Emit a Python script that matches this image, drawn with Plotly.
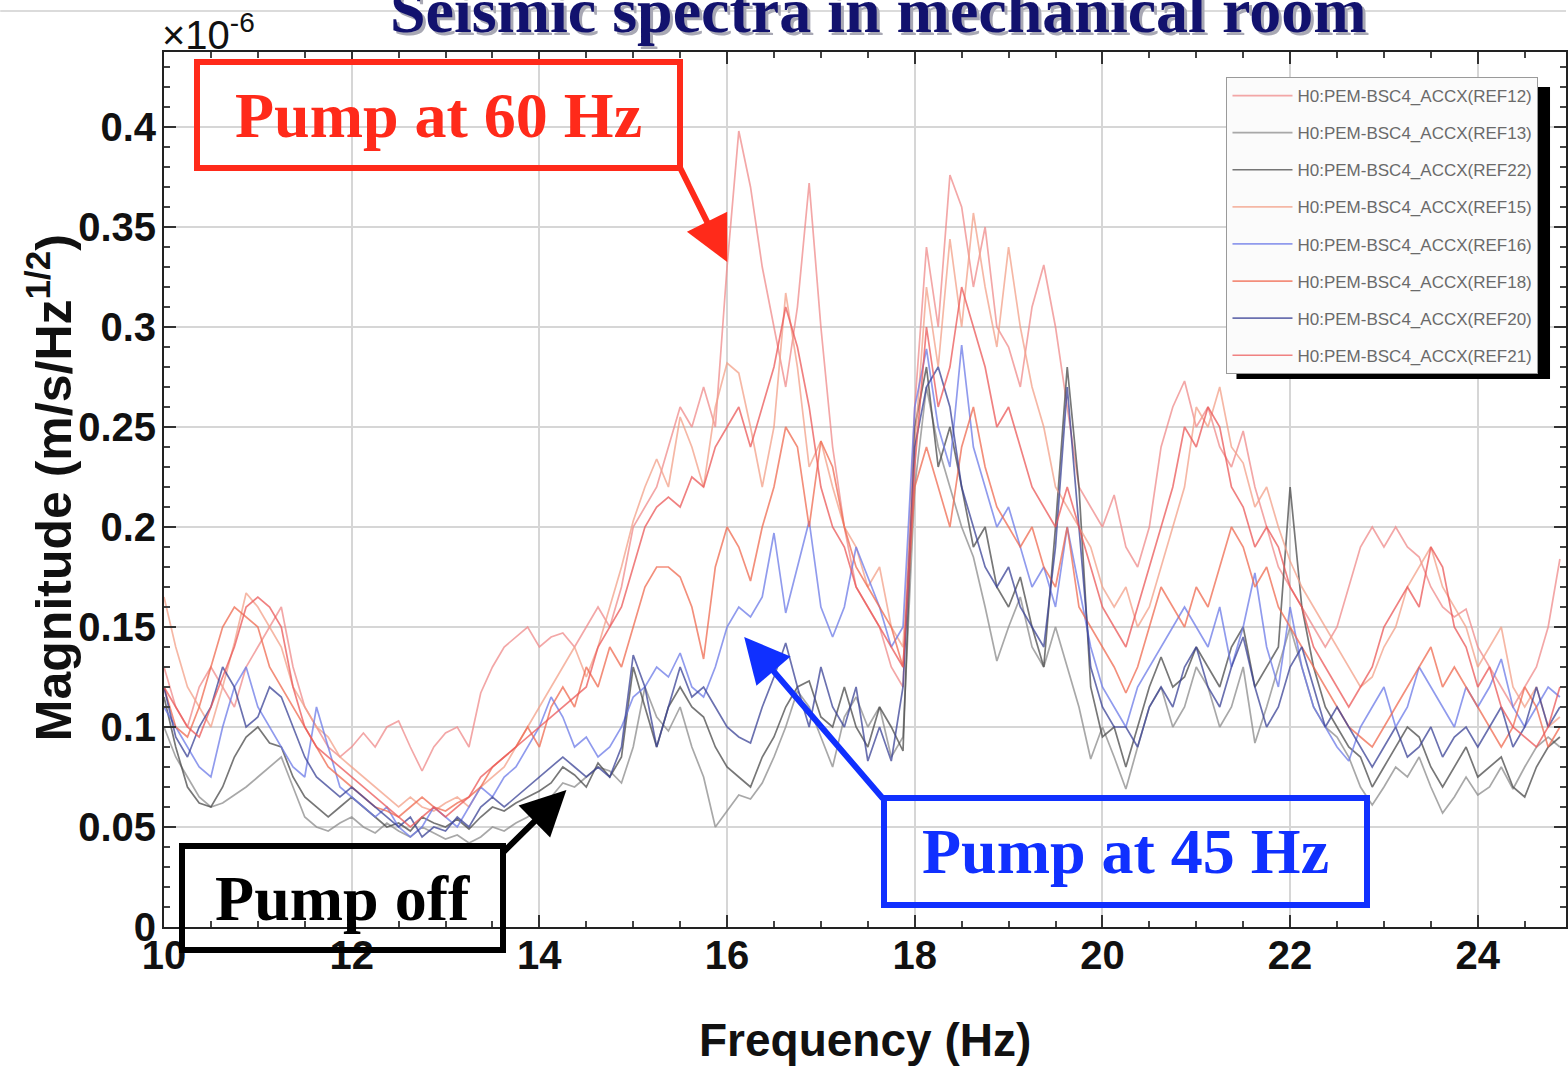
import plotly.graph_objects as go

# Frequency grid (Hz), 0.125 Hz resolution
freq = [round(10 + 0.125 * i, 3) for i in range(120)]

# Acceleration spectra, magnitude in units of 1e-6 m/s/Hz^1/2 (one row per Hz)
ref12 = [0.13, 0.11, 0.10, 0.12, 0.13, 0.12, 0.11, 0.13,
         0.14, 0.15, 0.16, 0.13, 0.11, 0.10, 0.09, 0.085,
         0.09, 0.097, 0.09, 0.10, 0.103, 0.09, 0.078, 0.09,
         0.097, 0.10, 0.09, 0.117, 0.13, 0.14, 0.145, 0.15,
         0.14, 0.145, 0.147, 0.14, 0.15, 0.16, 0.15, 0.17,
         0.20, 0.21, 0.22, 0.24, 0.26, 0.25, 0.27, 0.25,
         0.33, 0.398, 0.37, 0.33, 0.30, 0.27, 0.31, 0.372,
         0.30, 0.24, 0.20, 0.17, 0.16, 0.15, 0.13, 0.12,
         0.26, 0.34, 0.30, 0.376, 0.36, 0.32, 0.35, 0.30,
         0.29, 0.27, 0.31, 0.331, 0.30, 0.26, 0.22, 0.21,
         0.20, 0.216, 0.19, 0.18, 0.20, 0.24, 0.26, 0.273,
         0.25, 0.26, 0.24, 0.23, 0.248, 0.22, 0.20, 0.18,
         0.17, 0.16, 0.15, 0.14, 0.15, 0.17, 0.19, 0.20,
         0.19, 0.20, 0.19, 0.185, 0.17, 0.16, 0.155, 0.159,
         0.14, 0.13, 0.12, 0.11, 0.12, 0.13, 0.15, 0.184]

ref13 = [0.10, 0.085, 0.075, 0.065, 0.06, 0.062, 0.066, 0.07,
         0.075, 0.08, 0.085, 0.07, 0.055, 0.05, 0.048, 0.052,
         0.055, 0.05, 0.047, 0.052, 0.048, 0.045, 0.05, 0.047,
         0.044, 0.046, 0.042, 0.045, 0.05, 0.048, 0.052, 0.055,
         0.06, 0.065, 0.072, 0.07, 0.075, 0.08, 0.078, 0.072,
         0.09, 0.12, 0.105, 0.098, 0.11, 0.09, 0.075, 0.05,
         0.058, 0.066, 0.064, 0.072, 0.085, 0.10, 0.118, 0.11,
         0.095, 0.08, 0.105, 0.115, 0.10, 0.11, 0.085, 0.095,
         0.22, 0.27, 0.24, 0.22, 0.20, 0.185, 0.16, 0.133,
         0.15, 0.165, 0.14, 0.13, 0.15, 0.13, 0.11, 0.084,
         0.10, 0.085, 0.069, 0.09, 0.11, 0.12, 0.10, 0.11,
         0.13, 0.12, 0.10, 0.11, 0.13, 0.092, 0.11, 0.13,
         0.15, 0.13, 0.11, 0.10, 0.095, 0.085, 0.07, 0.061,
         0.07, 0.08, 0.075, 0.085, 0.07, 0.057, 0.065, 0.075,
         0.066, 0.07, 0.08, 0.069, 0.08, 0.09, 0.095, 0.09]

ref22 = [0.115, 0.09, 0.07, 0.062, 0.06, 0.07, 0.085, 0.095,
         0.10, 0.092, 0.09, 0.075, 0.065, 0.06, 0.055, 0.06,
         0.065, 0.06, 0.055, 0.05, 0.052, 0.048, 0.055, 0.052,
         0.05, 0.054, 0.049, 0.055, 0.06, 0.058, 0.062, 0.065,
         0.068, 0.072, 0.08, 0.076, 0.07, 0.082, 0.075, 0.085,
         0.13, 0.11, 0.09, 0.11, 0.12, 0.11, 0.105, 0.09,
         0.08, 0.075, 0.07, 0.085, 0.095, 0.11, 0.12, 0.123,
         0.105, 0.10, 0.12, 0.10, 0.09, 0.11, 0.10, 0.088,
         0.25, 0.28, 0.23, 0.25, 0.22, 0.19, 0.20, 0.17,
         0.16, 0.175, 0.15, 0.13, 0.20, 0.28, 0.22, 0.12,
         0.095, 0.10, 0.08, 0.10, 0.12, 0.135, 0.12, 0.125,
         0.14, 0.13, 0.12, 0.14, 0.15, 0.12, 0.13, 0.14,
         0.22, 0.16, 0.13, 0.11, 0.10, 0.09, 0.085, 0.07,
         0.08, 0.09, 0.10, 0.095, 0.08, 0.07, 0.08, 0.09,
         0.075, 0.08, 0.085, 0.07, 0.065, 0.08, 0.09, 0.095]

ref15 = [0.165, 0.14, 0.12, 0.11, 0.10, 0.12, 0.142, 0.167,
         0.16, 0.15, 0.14, 0.12, 0.11, 0.10, 0.095, 0.085,
         0.08, 0.075, 0.07, 0.065, 0.06, 0.065, 0.06, 0.058,
         0.062, 0.065, 0.06, 0.07, 0.075, 0.08, 0.09, 0.10,
         0.11, 0.12, 0.13, 0.14, 0.125, 0.14, 0.16, 0.18,
         0.203, 0.22, 0.234, 0.22, 0.255, 0.24, 0.22, 0.26,
         0.282, 0.277, 0.25, 0.22, 0.25, 0.317, 0.28, 0.23,
         0.243, 0.22, 0.20, 0.19, 0.17, 0.18, 0.15, 0.14,
         0.24, 0.32, 0.28, 0.344, 0.30, 0.357, 0.32, 0.29,
         0.34, 0.30, 0.27, 0.25, 0.22, 0.21, 0.20, 0.19,
         0.17, 0.16, 0.17, 0.15, 0.16, 0.18, 0.20, 0.22,
         0.26, 0.25, 0.27, 0.24, 0.232, 0.21, 0.22, 0.20,
         0.183, 0.17, 0.16, 0.15, 0.14, 0.13, 0.12, 0.125,
         0.14, 0.15, 0.17, 0.18, 0.19, 0.17, 0.16, 0.15,
         0.13, 0.14, 0.15, 0.12, 0.11, 0.12, 0.10, 0.105]

ref16 = [0.11, 0.10, 0.09, 0.08, 0.075, 0.10, 0.12, 0.13,
         0.11, 0.10, 0.09, 0.08, 0.075, 0.11, 0.09, 0.07,
         0.065, 0.06, 0.055, 0.06, 0.05, 0.045, 0.05, 0.06,
         0.055, 0.05, 0.06, 0.07, 0.065, 0.075, 0.08, 0.09,
         0.10, 0.115, 0.105, 0.09, 0.095, 0.085, 0.09, 0.10,
         0.115, 0.12, 0.13, 0.125, 0.137, 0.12, 0.115, 0.13,
         0.15, 0.16, 0.155, 0.165, 0.197, 0.157, 0.18, 0.203,
         0.16, 0.145, 0.16, 0.19, 0.175, 0.16, 0.14, 0.15,
         0.26, 0.289, 0.25, 0.23, 0.291, 0.24, 0.22, 0.20,
         0.21, 0.19, 0.17, 0.18, 0.16, 0.20, 0.17, 0.14,
         0.12, 0.11, 0.10, 0.12, 0.13, 0.14, 0.15, 0.16,
         0.15, 0.14, 0.16, 0.13, 0.15, 0.177, 0.14, 0.12,
         0.16, 0.13, 0.11, 0.10, 0.09, 0.083, 0.10, 0.11,
         0.12, 0.10, 0.11, 0.13, 0.12, 0.11, 0.10, 0.12,
         0.11, 0.12, 0.134, 0.11, 0.10, 0.11, 0.12, 0.115]

ref18 = [0.12, 0.10, 0.095, 0.11, 0.13, 0.15, 0.16, 0.155,
         0.15, 0.13, 0.12, 0.11, 0.10, 0.09, 0.08, 0.075,
         0.07, 0.065, 0.06, 0.058, 0.055, 0.06, 0.065, 0.06,
         0.058, 0.062, 0.065, 0.07, 0.08, 0.085, 0.09, 0.10,
         0.09, 0.11, 0.12, 0.11, 0.13, 0.12, 0.14, 0.13,
         0.15, 0.17, 0.18, 0.18, 0.175, 0.16, 0.134, 0.18,
         0.20, 0.19, 0.173, 0.20, 0.22, 0.25, 0.24, 0.20,
         0.243, 0.23, 0.20, 0.18, 0.17, 0.16, 0.15, 0.13,
         0.22, 0.24, 0.22, 0.20, 0.24, 0.26, 0.23, 0.21,
         0.20, 0.19, 0.20, 0.18, 0.17, 0.20, 0.16, 0.15,
         0.14, 0.13, 0.117, 0.13, 0.15, 0.17, 0.16, 0.15,
         0.17, 0.16, 0.18, 0.20, 0.19, 0.17, 0.18, 0.16,
         0.15, 0.14, 0.13, 0.12, 0.11, 0.10, 0.095, 0.09,
         0.10, 0.11, 0.12, 0.13, 0.14, 0.12, 0.13, 0.12,
         0.11, 0.10, 0.09, 0.10, 0.12, 0.11, 0.09, 0.10]

ref20 = [0.12, 0.095, 0.085, 0.10, 0.11, 0.13, 0.12, 0.10,
         0.105, 0.12, 0.115, 0.10, 0.085, 0.075, 0.07, 0.065,
         0.07, 0.065, 0.06, 0.055, 0.05, 0.055, 0.045, 0.05,
         0.048, 0.055, 0.05, 0.06, 0.065, 0.06, 0.065, 0.07,
         0.075, 0.08, 0.085, 0.08, 0.075, 0.08, 0.075, 0.09,
         0.136, 0.12, 0.09, 0.11, 0.13, 0.115, 0.12, 0.11,
         0.10, 0.095, 0.092, 0.11, 0.125, 0.142, 0.12, 0.10,
         0.13, 0.11, 0.10, 0.12, 0.083, 0.10, 0.083, 0.12,
         0.24, 0.27, 0.28, 0.26, 0.22, 0.20, 0.18, 0.17,
         0.18, 0.16, 0.15, 0.14, 0.19, 0.27, 0.20, 0.13,
         0.11, 0.10, 0.10, 0.09, 0.11, 0.12, 0.11, 0.13,
         0.14, 0.12, 0.11, 0.13, 0.145, 0.12, 0.10, 0.11,
         0.13, 0.14, 0.12, 0.10, 0.11, 0.10, 0.09, 0.08,
         0.09, 0.10, 0.085, 0.09, 0.10, 0.085, 0.095, 0.10,
         0.09, 0.10, 0.11, 0.09, 0.10, 0.12, 0.10, 0.11]

ref21 = [0.12, 0.11, 0.10, 0.095, 0.11, 0.125, 0.14, 0.16,
         0.165, 0.16, 0.15, 0.12, 0.10, 0.09, 0.085, 0.08,
         0.075, 0.07, 0.065, 0.06, 0.055, 0.05, 0.055, 0.06,
         0.055, 0.06, 0.065, 0.075, 0.08, 0.085, 0.09, 0.095,
         0.10, 0.105, 0.11, 0.115, 0.12, 0.14, 0.15, 0.16,
         0.18, 0.20, 0.21, 0.215, 0.21, 0.225, 0.22, 0.24,
         0.25, 0.26, 0.24, 0.26, 0.28, 0.31, 0.29, 0.26,
         0.22, 0.20, 0.19, 0.17, 0.16, 0.15, 0.14, 0.13,
         0.23, 0.30, 0.26, 0.28, 0.32, 0.30, 0.28, 0.25,
         0.26, 0.24, 0.22, 0.21, 0.20, 0.22, 0.20, 0.18,
         0.16, 0.15, 0.14, 0.16, 0.18, 0.20, 0.22, 0.25,
         0.24, 0.26, 0.25, 0.22, 0.21, 0.19, 0.20, 0.19,
         0.17, 0.16, 0.14, 0.13, 0.12, 0.11, 0.12, 0.13,
         0.15, 0.16, 0.17, 0.16, 0.19, 0.18, 0.15, 0.14,
         0.12, 0.13, 0.11, 0.10, 0.095, 0.09, 0.10, 0.12]

channel_names = ["H0:PEM-BSC4_ACCX(REF12)", "H0:PEM-BSC4_ACCX(REF13)",
                 "H0:PEM-BSC4_ACCX(REF22)", "H0:PEM-BSC4_ACCX(REF15)",
                 "H0:PEM-BSC4_ACCX(REF16)", "H0:PEM-BSC4_ACCX(REF18)",
                 "H0:PEM-BSC4_ACCX(REF20)", "H0:PEM-BSC4_ACCX(REF21)"]
channel_values = [ref12, ref13, ref22, ref15, ref16, ref18, ref20, ref21]
channel_colors = ["#f08a8a", "#8c8c8c", "#4a4a4a", "#f3a088",
                  "#6c7ae8", "#f06a50", "#3a4296", "#ec5858"]

x_range = [10, 24.94]
y_range = [0, 0.4375]

# figure geometry (pixels)
W, H = 1568, 1068
ML, MR, MT, MB = 164, 0, 52, 141
PW, PH = W - ML - MR, H - MT - MB


def px(xp):
    return (xp - ML) / PW


def py(yp):
    return (H - MB - yp) / PH


SANS = "Liberation Sans, Arial, sans-serif"
SERIF = "Liberation Serif, Times New Roman, serif"

fig = go.Figure()
for name, vals, col in zip(channel_names, channel_values, channel_colors):
    fig.add_trace(go.Scatter(
        x=freq, y=vals, mode="lines", name=name, legendgroup=name,
        line=dict(color=col, width=1.7), opacity=0.75,
    ))

axis_common = dict(
    showline=True, linecolor="#222", linewidth=2, mirror="ticks",
    ticks="inside", tickcolor="#333", tickwidth=1.5, ticklen=12,
    showgrid=True, gridcolor="#d6d6d6", gridwidth=1.5, zeroline=False,
    tickfont=dict(family=SANS, size=40, color="#111", weight="bold"),
)
fig.update_xaxes(range=x_range, dtick=2, tick0=10,
                 minor=dict(dtick=0.5, ticks="inside", ticklen=6,
                            tickcolor="#444", showgrid=False),
                 ticklabelstandoff=-8, **axis_common)
fig.update_yaxes(range=y_range,
                 tickvals=[0, 0.05, 0.1, 0.15, 0.2, 0.25, 0.3, 0.35, 0.4],
                 ticktext=["0", "0.05", "0.1", "0.15", "0.2", "0.25", "0.3", "0.35", "0.4"],
                 minor=dict(dtick=0.01, ticks="inside", ticklen=6,
                            tickcolor="#444", showgrid=False),
                 ticklabelstandoff=-2, **axis_common)

annotations = [
    # slide title (shadow + text)
    dict(x=px(879 + 3), y=py(-27 + 3), text="<b>Seismic spectra in mechanical room</b>",
         font=dict(family=SERIF, size=64, color="#a8a8b4")),
    dict(x=px(879), y=py(-27), text="<b>Seismic spectra in mechanical room</b>",
         font=dict(family=SERIF, size=64, color="#12126e")),
    # axis titles and exponent
    dict(x=px(866), y=py(1040), text="<b>Frequency (Hz)</b>", yanchor="middle",
         font=dict(family=SANS, size=46, color="#111")),
    dict(x=px(50), y=py(488), text="<b>Magnitude (m/s/Hz<sup>1/2</sup>)</b>", textangle=-90,
         xanchor="center", yanchor="middle",
         font=dict(family=SANS, size=50, color="#111")),
    dict(x=px(160), y=py(32), text="×10<sup>-6</sup>", xanchor="left", yanchor="middle",
         font=dict(family=SANS, size=40, color="#111")),
    # callout boxes
    dict(x=px(438.5), y=py(115), text="<b>Pump at 60 Hz</b>", yanchor="middle",
         width=477, height=100, borderpad=0, borderwidth=6, bordercolor="#ff2a1a",
         font=dict(family=SERIF, size=64, color="#ff2a1a")),
    dict(x=px(1126.5), y=py(851.5), text="<b>Pump at 45 Hz</b>", yanchor="middle",
         width=477, height=101, borderpad=0, borderwidth=6, bordercolor="#1030ff",
         font=dict(family=SERIF, size=64, color="#1030ff")),
    dict(x=px(342.5), y=py(898), text="<b>Pump off</b>", yanchor="middle",
         width=315, height=98, borderpad=0, borderwidth=6, bordercolor="#000000",
         font=dict(family=SERIF, size=64, color="#000000")),
]
for a in annotations:
    a.setdefault("xref", "paper")
    a.setdefault("yref", "paper")
    a.setdefault("showarrow", False)
    a.setdefault("yanchor", "top")
    a.setdefault("xanchor", "center")

# callout arrows: (head x, head y, tail x, tail y, colour)
arrows = [(728, 262, 680, 166, "#ff2a1a"),
          (745, 637, 885, 800, "#1030ff"),
          (567, 790, 503, 853, "#000000")]
for hx, hy, tx, ty, col in arrows:
    annotations.append(dict(
        xref="paper", yref="paper", x=px(hx), y=py(hy), text="",
        showarrow=True, axref="pixel", ayref="pixel", ax=tx - hx, ay=ty - hy,
        arrowhead=2, arrowsize=1.5, arrowwidth=6, arrowcolor=col,
    ))

shapes = [
    # thin rule across the top of the slide
    dict(type="line", xref="paper", yref="paper", x0=px(0), x1=px(W),
         y0=py(11), y1=py(11), line=dict(color="#cfcfcf", width=1.5)),
    # drop shadow behind the legend box
    dict(type="rect", xref="paper", yref="paper", x0=px(1238), x1=px(1552),
         y0=py(379), y1=py(87), fillcolor="#000000", line=dict(width=0),
         layer="above"),
]

fig.update_layout(
    width=W, height=H,
    margin=dict(l=ML, r=MR, t=MT, b=MB, pad=0),
    paper_bgcolor="white", plot_bgcolor="white",
    annotations=annotations, shapes=shapes,
    showlegend=True,
    legend=dict(x=px(1228), y=py(77), xanchor="left", yanchor="top",
                bgcolor="#fbfbfb", bordercolor="#9a9a9a", borderwidth=1,
                font=dict(family=SANS, size=17, color="#6a6a6a"),
                itemwidth=60, tracegroupgap=12, traceorder="grouped"),
)

fig.write_html("out.html")
